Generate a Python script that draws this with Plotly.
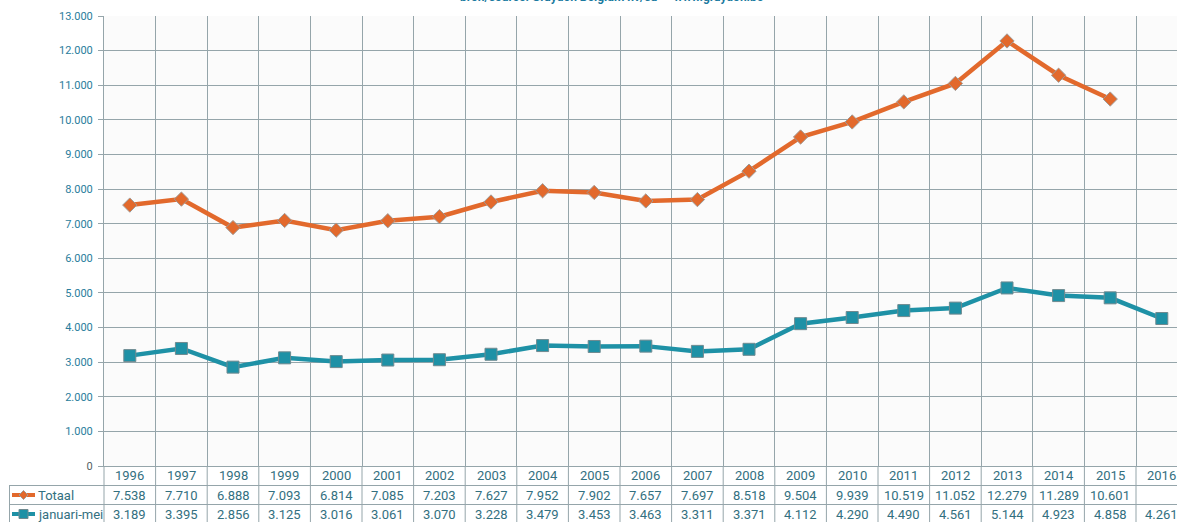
import plotly.graph_objects as go

years = [str(y) for y in range(1996, 2017)]
totaal = [7538, 7710, 6888, 7093, 6814, 7085, 7203, 7627, 7952, 7902, 7657,
          7697, 8518, 9504, 9939, 10519, 11052, 12279, 11289, 10601, None]
januari_mei = [3189, 3395, 2856, 3125, 3016, 3061, 3070, 3228, 3479, 3453, 3463,
               3311, 3371, 4112, 4290, 4490, 4561, 5144, 4923, 4858, 4261]
series_names = ["Totaal", "januari-mei"]
y_ticks = list(range(0, 13001, 1000))
title_text = "bron/source: Graydon Belgium nv/sa  -  www.graydon.be"

ORANGE = "#E2692C"
TEAL = "#1E91A6"
GRID = "#95a5aa"
TXT = "#33707f"
TICKTXT = "#2a7d9c"

W, H = 1177, 522
L, R, T, B = 104, 0, 16, 56
PW, PH = W - L - R, H - T - B
CAT_W = 51.6


def px(xp):
    return (xp - L) / PW


def py(yp):
    return (H - B - yp) / PH


def fmt(v):
    return f"{v:,}".replace(",", ".")


xs = list(range(len(years)))
fig = go.Figure()
fig.add_trace(go.Scatter(
    x=xs, y=totaal, mode="lines+markers", name=series_names[0],
    line=dict(color=ORANGE, width=4.5),
    marker=dict(symbol="diamond", size=11, color=ORANGE, line=dict(color="#a09a96", width=1)),
))
fig.add_trace(go.Scatter(
    x=xs, y=januari_mei, mode="lines+markers", name=series_names[1],
    line=dict(color=TEAL, width=4.5),
    marker=dict(symbol="square", size=12, color=TEAL, line=dict(color="#6f8a90", width=1)),
))

ticktext = [fmt(v) if v else "<span style='color:#555f63'>0</span>" for v in y_ticks]

fig.update_layout(
    width=W, height=H,
    margin=dict(l=L, r=R, t=T, b=B, pad=0),
    paper_bgcolor="white", plot_bgcolor="#fbfbfb",
    showlegend=False,
    font=dict(family="Roboto", color=TXT),
    xaxis=dict(
        range=[-0.5, -0.5 + PW / CAT_W], tick0=-0.5, dtick=1,
        showticklabels=False, ticks="", showgrid=True, gridcolor=GRID, gridwidth=1,
        showline=True, linecolor=GRID, linewidth=1, zeroline=False, fixedrange=True,
    ),
    yaxis=dict(
        range=[0, 13000], tickvals=y_ticks, ticktext=ticktext,
        tickfont=dict(size=11, color=TICKTXT, family="Roboto"),
        ticks="outside", ticklen=5, tickcolor=GRID, ticklabelstandoff=3,
        showgrid=True, gridcolor=GRID, gridwidth=1,
        showline=True, linecolor=GRID, linewidth=1, zeroline=False, fixedrange=True,
    ),
)

shapes = []
# table vertical boundaries
shapes.append(dict(type="line", xref="paper", yref="paper", x0=0, x1=0,
                   y0=py(H), y1=0, line=dict(color=GRID, width=1)))
for k in range(1, len(years) + 1):
    shapes.append(dict(type="line", xref="x", yref="paper", x0=k - 0.5, x1=k - 0.5,
                       y0=py(H), y1=0, line=dict(color=GRID, width=1)))
# table horizontal lines
for yl in (485.5, 504.5):
    shapes.append(dict(type="line", xref="paper", yref="paper", x0=px(9), x1=1,
                       y0=py(yl), y1=py(yl), line=dict(color=GRID, width=1)))
shapes.append(dict(type="line", xref="paper", yref="paper", x0=px(9.5), x1=px(9.5),
                   y0=py(485.5), y1=py(H), line=dict(color=GRID, width=1)))
# legend keys in row headers
for yc, col, sym in ((495, ORANGE, "diamond"), (514, TEAL, "square")):
    shapes.append(dict(type="line", xref="paper", yref="paper", x0=px(12), x1=px(35),
                       y0=py(yc), y1=py(yc), line=dict(color=col, width=4)))
    cx = 23.5
    d = 4.5
    if sym == "diamond":
        path = (f"M {px(cx)} {py(yc - d)} L {px(cx + d)} {py(yc)} "
                f"L {px(cx)} {py(yc + d)} L {px(cx - d)} {py(yc)} Z")
        shapes.append(dict(type="path", xref="paper", yref="paper", path=path,
                           fillcolor=col, line=dict(color="#a09a96", width=1)))
    else:
        shapes.append(dict(type="rect", xref="paper", yref="paper",
                           x0=px(cx - d), x1=px(cx + d), y0=py(yc - d), y1=py(yc + d),
                           fillcolor=col, line=dict(color="#6f8a90", width=1)))

annotations = []
annotations.append(dict(xref="paper", yref="paper", x=px(612), y=1, yshift=10,
                        xanchor="center", yanchor="bottom", showarrow=False,
                        text=f"<b>{title_text}</b>",
                        font=dict(size=12, color="#1b7aa0", family="Roboto")))
for i, yr in enumerate(years):
    annotations.append(dict(xref="x", yref="paper", x=i, y=py(476), text=yr,
                            showarrow=False, xanchor="center", yanchor="middle",
                            font=dict(size=13, color=TXT)))
for row_vals, yc in ((totaal, 495), (januari_mei, 514)):
    for i, v in enumerate(row_vals):
        if v is None:
            continue
        annotations.append(dict(xref="x", yref="paper", x=i, y=py(yc), text=fmt(v),
                                showarrow=False, xanchor="center", yanchor="middle",
                                font=dict(size=13, color=TXT)))
for name, yc in zip(series_names, (495, 514)):
    annotations.append(dict(xref="paper", yref="paper", x=px(36), y=py(yc), text=name,
                            showarrow=False, xanchor="left", yanchor="middle",
                            font=dict(size=13, color=TXT)))

fig.update_layout(shapes=shapes, annotations=annotations)

fig.write_html("out.html", config={"displayModeBar": False},
               post_script="document.body.style.margin='0';")
